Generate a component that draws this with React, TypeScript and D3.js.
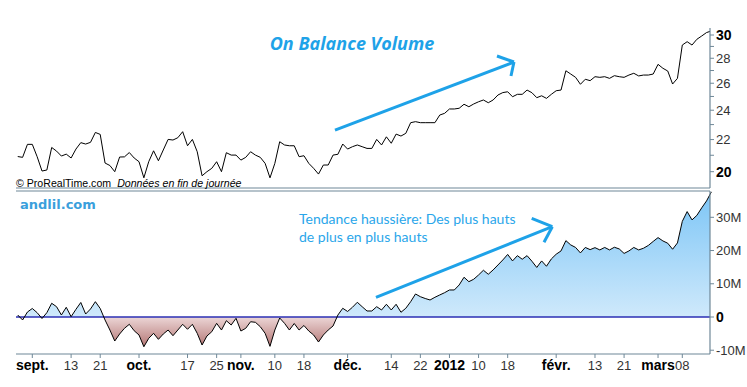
import React from "react";
import * as d3 from "d3";

const W = 747;
const H = 387;

// trading calendar (weekdays, market closed on Dec 26)
const firstDay = new Date(2011, 7, 29);
const lastDay = new Date(2012, 2, 16);
const closedDays = ["2011-12-26"];

// close price
const price = [
  20.92, 20.87, 21.69, 21.69, 20.91, 20.04, 20.1, 21.49, 21.26, 20.95,
  21.07, 20.83, 21.39, 21.8, 21.71, 21.82, 22.47, 22.34, 20.52, 20.37,
  20.0, 20.89, 20.9, 21.17, 20.83, 20.6, 19.64, 20.6, 21.28, 20.66,
  21.33, 22.01, 21.97, 22.12, 22.52, 21.6, 22.01, 21.22, 19.76, 20.0,
  20.2, 20.6, 20.0, 21.16, 21.01, 21.01, 20.7, 20.87, 21.22, 21.01,
  20.87, 20.5, 19.64, 20.5, 21.86, 21.65, 21.6, 21.6, 20.91, 20.97,
  20.5, 20.2, 19.86, 20.4, 20.4, 21.01, 21.06, 21.71, 21.39, 21.54,
  21.65, 21.54, 21.43, 21.43, 22.01, 21.65, 22.18, 21.76, 22.36, 22.23,
  22.41, 23.13, 23.2, 23.13, 23.13, 23.13, 23.13, 23.66, 23.78, 24.09,
  24.09, 24.14, 24.43, 24.25, 24.45, 24.61, 24.74, 24.54, 24.74, 25.11,
  25.29, 25.35, 24.98, 25.16, 25.16, 25.48, 25.28, 24.91, 25.05, 24.86,
  25.16, 25.43, 25.48, 26.98, 26.72, 26.46, 25.92, 26.31, 26.2, 26.51,
  26.46, 26.51, 26.38, 26.59, 26.51, 26.46, 26.64, 26.78, 26.57, 26.64,
  26.64, 26.72, 27.5, 27.18, 26.96, 25.94, 26.38, 29.12, 29.41, 29.12,
  29.62, 29.91, 30.22, 30.36,
];

// on balance volume, millions
const obv = [
  0.6, -0.9, 1.5, 2.56, 1.3, -0.45, 1.3, 4.13, 3.1, 0.6,
  2.92, 0.09, 2.32, 4.37, 0.9, 2.41, 4.61, 2.56, -0.9, -3.92,
  -7.23, -5.12, -3.4, -2.2, -4.13, -5.42, -8.95, -6.42, -4.91, -6.72,
  -5.12, -3.92, -5.63, -3.92, -2.2, -3.7, -2.2, -4.91, -8.43, -5.72,
  -4.43, -1.9, -3.92, -1.11, -2.41, -0.39, -4.22, -3.4, -1.42, -1.6,
  -2.92, -4.91, -8.83, -3.92, -0.3, -1.9, -3.92, -1.96, -3.92, -2.56,
  -4.22, -5.42, -7.53, -5.42, -3.92, -2.71, 0.6, 2.62, 1.66, 2.92,
  4.43, 3.1, 1.81, 1.81, 3.1, 2.11, 3.83, 2.11, 3.83, 1.42,
  2.62, 4.61, 6.93, 6.11, 5.57, 5.12, 5.93, 6.63, 7.32, 8.13,
  8.13, 9.64, 11.96, 10.63, 11.36, 12.65, 14.07, 12.86, 14.16, 15.66,
  17.17, 18.83, 16.87, 18.46, 17.38, 18.46, 16.78, 14.91, 16.87, 15.27,
  17.47, 18.89, 19.88, 22.98, 21.69, 20.93, 19.28, 20.93, 20.27, 20.87,
  20.18, 20.93, 20.18, 20.99, 20.48, 19.13, 19.88, 20.93, 20.18, 20.69,
  21.54, 22.74, 23.89, 22.89, 22.2, 20.39, 22.29, 28.77, 31.72, 29.22,
  30.57, 32.83, 34.94, 37.65,
];

const xTicks = [
  { date: "2011-09-01", label: "sept.", bold: true },
  { date: "2011-09-13", label: "13" },
  { date: "2011-09-21", label: "21" },
  { date: "2011-10-03", label: "oct.", bold: true },
  { date: "2011-10-17", label: "17" },
  { date: "2011-10-25", label: "25" },
  { date: "2011-11-01", label: "nov.", bold: true },
  { date: "2011-11-10", label: "10" },
  { date: "2011-11-18", label: "18" },
  { date: "2011-12-01", label: "déc.", bold: true },
  { date: "2011-12-14", label: "14" },
  { date: "2011-12-22", label: "22" },
  { date: "2012-01-02", label: "2012", bold: true },
  { date: "2012-01-10", label: "10" },
  { date: "2012-01-18", label: "18" },
  { date: "2012-02-01", label: "févr.", bold: true },
  { date: "2012-02-13", label: "13" },
  { date: "2012-02-21", label: "21" },
  { date: "2012-03-01", label: "mars", bold: true },
  { date: "2012-03-08", label: "08" },
];

const priceTicks = [20, 22, 24, 26, 28, 30];
const priceMinorTicks = [21, 23, 25, 27, 29];
const obvTicks = [-10, 0, 10, 20, 30];

const fmt = d3.timeFormat("%Y-%m-%d");
const days = d3.timeDay
  .range(firstDay, d3.timeDay.offset(lastDay, 1))
  .filter((d) => d.getDay() !== 0 && d.getDay() !== 6)
  .map(fmt)
  .filter((d) => !closedDays.includes(d));

const AXIS = "#6f8898";
const BLUE = "#1ea2e8";
const plot = { left: 16, right: 710 };
const top = { y0: 28, y1: 188 };
const bot = { y0: 191, y1: 354 };

const x = d3.scaleLinear().domain([3, 137]).range([32.3, 682.3]);
const yP = d3.scaleLog().domain([20, 30]).range([171.7, 35]);
const yO = d3.scaleLinear().domain([0, 30]).range([317, 217.3]);

const pricePath = d3
  .line<number>()
  .x((_, i) => x(i))
  .y((d) => yP(d))(price);
const obvPath = d3
  .line<number>()
  .x((_, i) => x(i))
  .y((d) => yO(d))(obv);
const obvArea = d3
  .area<number>()
  .x((_, i) => x(i))
  .y0(yO(0))
  .y1((d) => yO(d))(obv);

// annotation arrows anchored in data units (index, value)
const topArrow = { from: [65.4, 22.63], to: [102.3, 27.69] };
const botArrow = { from: [73.85, 5.93], to: [110.2, 27.17] };

function Arrow({ p1, p2, arms }: { p1: number[]; p2: number[]; arms: number[][] }) {
  return (
    <g stroke={BLUE} strokeWidth={3} fill="none" strokeLinecap="butt">
      <line x1={p1[0]} y1={p1[1]} x2={p2[0]} y2={p2[1]} />
      {arms.map((a, i) => (
        <line key={i} x1={p2[0]} y1={p2[1]} x2={p2[0] + a[0]} y2={p2[1] + a[1]} />
      ))}
    </g>
  );
}

export default function App() {
  const labelFont = "'Liberation Sans', Arial, sans-serif";
  return (
    <svg
      width={W}
      height={H}
      style={{ position: "absolute", left: 0, top: 0, background: "#fff" }}
      fontFamily={labelFont}
    >
      <defs>
        <clipPath id="clipTop">
          <rect x={plot.left} y={top.y0} width={plot.right - plot.left} height={top.y1 - top.y0} />
        </clipPath>
        <clipPath id="clipPos">
          <rect x={plot.left} y={bot.y0} width={plot.right - plot.left} height={yO(0) - bot.y0} />
        </clipPath>
        <clipPath id="clipNeg">
          <rect x={plot.left} y={yO(0)} width={plot.right - plot.left} height={bot.y1 - yO(0)} />
        </clipPath>
        <linearGradient id="gPos" gradientUnits="userSpaceOnUse" x1={0} x2={0} y1={yO(0)} y2={bot.y0}>
          <stop offset="0" stopColor="#cfe9fb" />
          <stop offset="1" stopColor="#7cc5f6" />
        </linearGradient>
        <linearGradient id="gNeg" gradientUnits="userSpaceOnUse" x1={0} x2={0} y1={yO(0)} y2={yO(-10)}>
          <stop offset="0" stopColor="#ecd6d6" />
          <stop offset="1" stopColor="#ad6a68" />
        </linearGradient>
      </defs>

      {/* top panel */}
      <path d={pricePath ?? ""} fill="none" stroke="#000" strokeWidth={1} clipPath="url(#clipTop)" />
      <line x1={plot.left} x2={plot.right} y1={top.y1} y2={top.y1} stroke={AXIS} strokeWidth={1.2} />
      <line x1={plot.right} x2={plot.right} y1={top.y0} y2={top.y1} stroke={AXIS} strokeWidth={1.2} />
      {priceMinorTicks.map((t) => (
        <line key={t} x1={plot.right} x2={plot.right + 4} y1={yP(t)} y2={yP(t)} stroke={AXIS} />
      ))}
      {priceTicks.map((t, i) => {
        const bold = i === 0 || i === priceTicks.length - 1;
        return (
          <g key={t}>
            <line x1={plot.right} x2={plot.right + 4} y1={yP(t)} y2={yP(t)} stroke={AXIS} />
            <text
              x={plot.right + 6}
              y={yP(t)}
              dy="0.36em"
              fontSize={bold ? 14 : 13}
              fontWeight={bold ? "bold" : "normal"}
              fill={bold ? "#000" : "#333"}
            >
              {t}
            </text>
          </g>
        );
      })}
      <text x={352} y={50} textAnchor="middle" fill={BLUE} fontFamily="'Open Sans', sans-serif" fontWeight="bold" fontStyle="italic" fontSize={18}>
        On Balance Volume
      </text>
      <text x={plot.left} y={187} fontSize={10.6} fill="#000">
        © ProRealTime.com
        <tspan dx={6} fontStyle="italic">Données en fin de journée</tspan>
      </text>
      <Arrow
        p1={[x(topArrow.from[0]), yP(topArrow.from[1])]}
        p2={[x(topArrow.to[0]), yP(topArrow.to[1])]}
        arms={[[-17, -6], [-3, 14]]}
      />

      {/* bottom panel */}
      <path d={obvArea ?? ""} fill="url(#gPos)" clipPath="url(#clipPos)" />
      <path d={obvArea ?? ""} fill="url(#gNeg)" clipPath="url(#clipNeg)" />
      <line x1={plot.left} x2={plot.right} y1={yO(0)} y2={yO(0)} stroke="#2b2fb4" strokeWidth={1.5} />
      <path d={obvPath ?? ""} fill="none" stroke="#000" strokeWidth={1} />
      <line x1={plot.left} x2={plot.right} y1={bot.y0} y2={bot.y0} stroke={AXIS} strokeWidth={1.2} />
      <line x1={plot.left} x2={plot.right} y1={bot.y1} y2={bot.y1} stroke={AXIS} strokeWidth={1.2} />
      <line x1={plot.right} x2={plot.right} y1={bot.y0} y2={bot.y1} stroke={AXIS} strokeWidth={1.2} />
      {obvTicks.map((t) => (
        <g key={t}>
          <line x1={plot.right} x2={plot.right + 4} y1={yO(t)} y2={yO(t)} stroke={AXIS} />
          <text
            x={plot.right + 6}
            y={yO(t)}
            dy="0.36em"
            fontSize={t === 0 ? 14 : 13}
            fontWeight={t === 0 ? "bold" : "normal"}
            fill={t === 0 ? "#000" : "#333"}
          >
            {t === 0 ? "0" : `${t}M`}
          </text>
        </g>
      ))}
      {xTicks.map((t) => {
        const xi = x(days.indexOf(t.date));
        return (
          <g key={t.date}>
            <line x1={xi} x2={xi} y1={bot.y1} y2={bot.y1 + 4} stroke={AXIS} />
            <text
              x={xi}
              y={370}
              textAnchor="middle"
              fontSize={t.bold ? 14 : 13}
              fontWeight={t.bold ? "bold" : "normal"}
              fill={t.bold ? "#000" : "#333"}
            >
              {t.label}
            </text>
          </g>
        );
      })}
      <text x={20} y={209} fill="#3a9fdc" fontFamily="'DejaVu Sans', sans-serif" fontWeight="bold" fontSize={13}>
        andlil.com
      </text>
      <g fill="#2aa6ea" fontFamily="Lato, sans-serif" fontSize={14}>
        <text x={299} y={224}>Tendance haussière: Des plus hauts</text>
        <text x={299} y={242}>de plus en plus hauts</text>
      </g>
      <Arrow
        p1={[x(botArrow.from[0]), yO(botArrow.from[1])]}
        p2={[x(botArrow.to[0]), yO(botArrow.to[1])]}
        arms={[[-20.6, -8.4], [-8.3, 15.6]]}
      />
    </svg>
  );
}
